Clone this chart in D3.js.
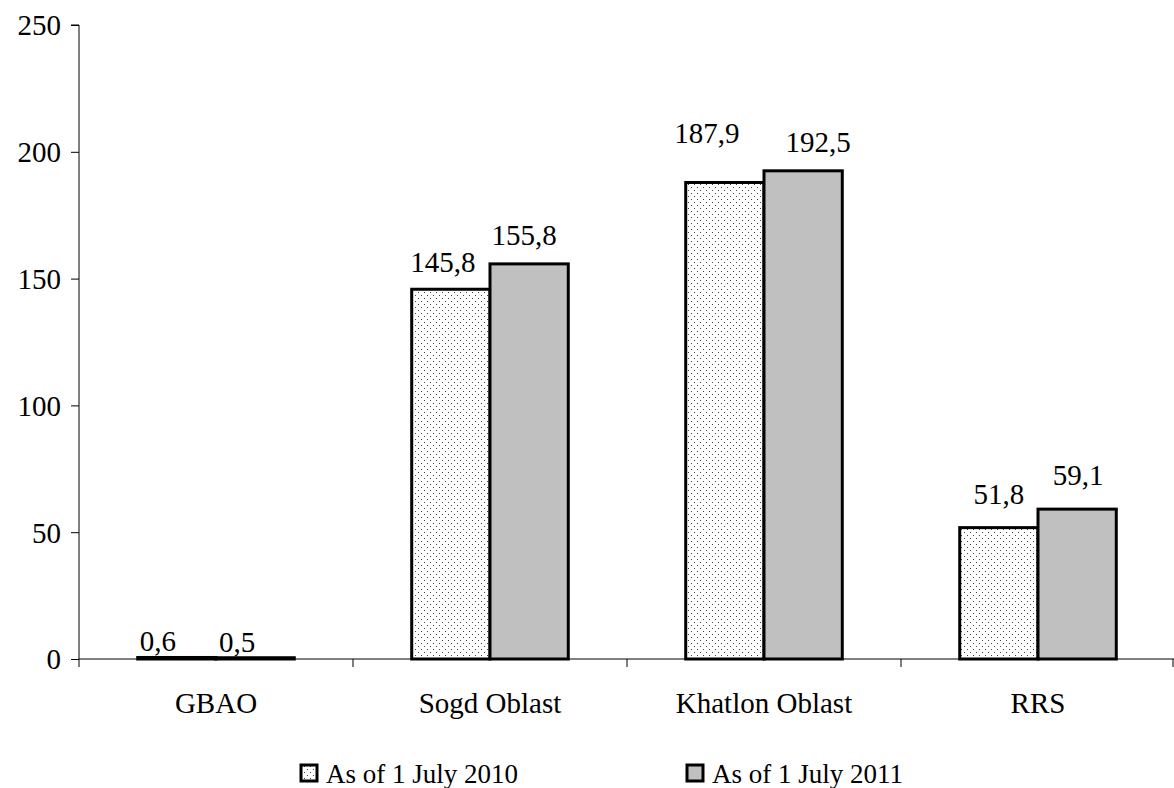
<!DOCTYPE html>
<html>
<head>
<meta charset="utf-8">
<script src="https://cdn.jsdelivr.net/npm/d3@7"></script>
<style>
  html, body { margin: 0; padding: 0; background: #fff; }
  svg { display: block; }
  text { font-family: "Liberation Serif", "Times New Roman", serif; fill: #000; }
</style>
</head>
<body>
<svg id="chart" width="1174" height="788"></svg>
<script>
// Regions and the two reporting dates
const categories = ["GBAO", "Sogd Oblast", "Khatlon Oblast", "RRS"];
const seriesNames = ["As of 1 July 2010", "As of 1 July 2011"];
const values2010 = [0.6, 145.8, 187.9, 51.8];
const values2011 = [0.5, 155.8, 192.5, 59.1];
const yTicks = [0, 50, 100, 150, 200, 250];

const W = 1174, H = 788;
const margin = { left: 79, right: -1, top: 25, bottom: 129 };
const svg = d3.select("#chart");

const defs = svg.append("defs");
const dots = defs.append("pattern")
  .attr("id", "dots").attr("patternUnits", "userSpaceOnUse")
  .attr("width", 6).attr("height", 6);
dots.append("rect").attr("width", 6).attr("height", 6).attr("fill", "#fff");
dots.append("rect").attr("x", 1).attr("y", 1).attr("width", 1).attr("height", 1).attr("fill", "#444");
dots.append("rect").attr("x", 4).attr("y", 4).attr("width", 1).attr("height", 1).attr("fill", "#444");

const fills = ["url(#dots)", "#c0c0c0"];

const x = d3.scaleBand().domain(categories)
  .range([margin.left, W - margin.right]).paddingInner(0).paddingOuter(0);
const bandW = x.bandwidth();
// two bars per category with a gap of 1.5 bar widths
const barW = bandW / 3.5;
const xs = d3.scaleBand().domain(seriesNames).range([0, 2 * barW]);

const y = d3.scaleLinear().domain([0, 250]).range([H - margin.bottom, margin.top]);

// y axis
const yAxis = d3.axisLeft(y).tickValues(yTicks).tickSize(8).tickPadding(10).tickFormat(d3.format("d"));
const gy = svg.append("g").attr("transform", `translate(${margin.left},0)`).call(yAxis);
gy.select(".domain").attr("stroke", "#000").attr("stroke-width", 1).attr("d", `M-8,${y(250)}H0V${y(0)}`);
gy.selectAll(".tick line").attr("stroke", "#000");
gy.selectAll(".tick text").style("font-size", "29px").attr("dy", "0.34em")
  .style("font-family", "'Liberation Serif', serif");

// bars
const series = [values2010, values2011];
const groups = svg.append("g");
series.forEach((vals, si) => {
  groups.selectAll(null).data(categories).enter().append("rect")
    .attr("x", (c) => x(c) + (bandW - 2 * barW) / 2 + xs(seriesNames[si]))
    .attr("y", (c, i) => y(vals[i]))
    .attr("width", xs.bandwidth())
    .attr("height", (c, i) => y(0) - y(vals[i]))
    .attr("fill", fills[si])
    .attr("stroke", "#000").attr("stroke-width", 3);
});

// x axis, ticks at category boundaries
const gx = svg.append("g").attr("transform", `translate(0,${y(0)})`);
gx.append("line").attr("x1", margin.left).attr("x2", W).attr("stroke", "#000");
const bounds = categories.map(c => x(c)).concat([x(categories[categories.length - 1]) + bandW]);
gx.selectAll(null).data(bounds).enter().append("line")
  .attr("x1", d => Math.min(d, W - 1)).attr("x2", d => Math.min(d, W - 1))
  .attr("y1", 0).attr("y2", 8).attr("stroke", "#000");
gx.selectAll(null).data(categories).enter().append("text")
  .attr("x", c => x(c) + bandW / 2).attr("y", 54)
  .attr("text-anchor", "middle").style("font-size", "29px").text(c => c);

// value labels, with small manual nudges where labels were moved apart
const labelNudge = [
  [[-19, 12], [-8, 1], [-18, -21], [0, -6]],
  [[-18, 12], [-5, -1], [15, -1], [1, -6]]
];
const fmt = v => d3.format(".1f")(v).replace(".", ",");
series.forEach((vals, si) => {
  svg.append("g").selectAll("text").data(categories).enter().append("text")
    .attr("x", (c, i) => x(c) + (bandW - 2 * barW) / 2 + xs(seriesNames[si]) + barW / 2 + labelNudge[si][i][0])
    .attr("y", (c, i) => y(vals[i]) - 18 + labelNudge[si][i][1])
    .attr("text-anchor", "middle").style("font-size", "29px")
    .text((c, i) => fmt(vals[i]));
});

// legend
const legendX = [301, 687];
const leg = svg.append("g");
seriesNames.forEach((name, si) => {
  leg.append("rect").attr("x", legendX[si]).attr("y", 765).attr("width", 16).attr("height", 16)
    .attr("fill", fills[si]).attr("stroke", "#000").attr("stroke-width", 3);
  leg.append("text").attr("x", legendX[si] + 25).attr("y", 783)
    .style("font-size", "27px").text(name);
});
</script>
</body>
</html>
